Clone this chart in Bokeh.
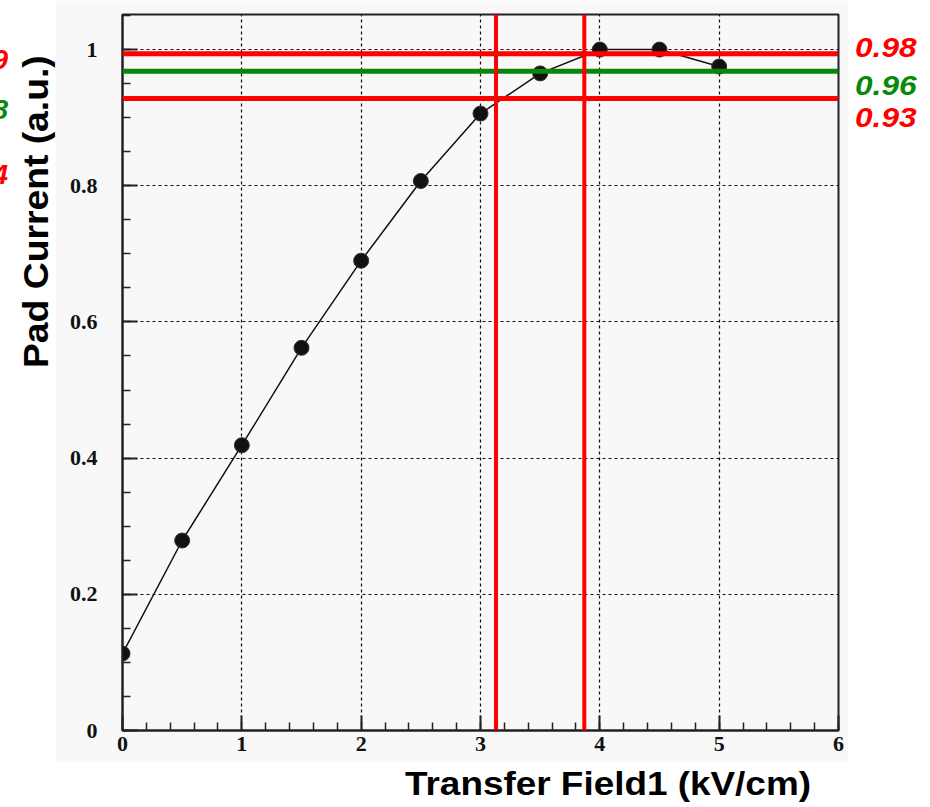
from bokeh.plotting import figure
from bokeh.models import Span, FixedTicker, Range1d, Div
from bokeh.layouts import row, column
from bokeh.embed import file_html
from bokeh.resources import INLINE

# ---- data ----
field_kv_cm = [0, 0.5, 1, 1.5, 2, 2.5, 3, 3.5, 4, 4.5, 5]
pad_current = [0.113, 0.279, 0.419, 0.562, 0.690, 0.807, 0.906, 0.965, 1.0, 1.0, 0.975]

x_ticks = [0, 1, 2, 3, 4, 5, 6]
x_tick_labels = ["0", "1", "2", "3", "4", "5", "6"]
y_ticks = [0, 0.2, 0.4, 0.6, 0.8, 1.0]
y_tick_labels = ["0", "0.2", "0.4", "0.6", "0.8", "1"]

hline_values = [0.994, 0.968, 0.928]
hline_colors = ["#ff0000", "#0a860a", "#ff0000"]
vline_values = [3.13, 3.87]

right_labels = ["0.98", "0.96", "0.93"]
right_label_colors = ["#ff0000", "#078a07", "#ff0000"]
left_cut_labels = ["9", "8", "4"]
left_cut_colors = ["#ff0000", "#078a07", "#ff0000"]

x_title = "Transfer Field1 (kV/cm)"
y_title = "Pad Current (a.u.)"

# ---- layout constants ----
LEFT_W, PLOT_W, RIGHT_W = 55, 793, 82
PLOT_H, BOTTOM_H = 762, 44
GREY = "#f8f8f8"

p = figure(width=PLOT_W, height=PLOT_H, x_range=Range1d(0, 6), y_range=Range1d(0, 1.0515),
           output_backend="svg", toolbar_location=None,
           min_border_left=67, min_border_right=10,
           min_border_top=14, min_border_bottom=32,
           background_fill_color=GREY, border_fill_color=GREY)

p.outline_line_color = "#222222"
p.outline_line_width = 2

x_minor = [i * 0.2 for i in range(31)]
y_minor = [i * 0.05 for i in range(22)]
p.xaxis.ticker = FixedTicker(ticks=x_ticks, minor_ticks=x_minor)
p.yaxis.ticker = FixedTicker(ticks=y_ticks, minor_ticks=y_minor)
p.xaxis.major_label_overrides = {t: l for t, l in zip(x_ticks, x_tick_labels)}
p.yaxis.major_label_overrides = {t: l for t, l in zip(y_ticks, y_tick_labels)}

for ax in (p.xaxis[0], p.yaxis[0]):
    ax.axis_line_width = 2
    ax.axis_line_color = "#222222"
    ax.major_tick_in = 15
    ax.major_tick_out = 0
    ax.minor_tick_in = 8
    ax.minor_tick_out = 0
    ax.major_tick_line_color = "#222222"
    ax.minor_tick_line_color = "#222222"
    ax.major_tick_line_width = 2
    ax.minor_tick_line_width = 1.5
    ax.major_label_text_font = "Liberation Serif"
    ax.major_label_text_font_style = "bold"
    ax.major_label_text_font_size = "22px"
    ax.major_label_text_color = "#111111"
p.xaxis.major_label_standoff = 6
p.yaxis.major_label_standoff = 25

p.xgrid.ticker = FixedTicker(ticks=x_ticks)
p.ygrid.ticker = FixedTicker(ticks=y_ticks)
for g in (p.xgrid[0], p.ygrid[0]):
    g.grid_line_color = "#111111"
    g.grid_line_dash = "3 3"
    g.grid_line_width = 1.2

# data
p.line(field_kv_cm, pad_current, line_color="#111111", line_width=1.5)
p.scatter(field_kv_cm, pad_current, size=15, fill_color="#111111", line_color="#333333")

# reference lines
for v, c in zip(hline_values, hline_colors):
    p.add_layout(Span(location=v, dimension="width", line_color=c, line_width=5))
for v in vline_values:
    p.add_layout(Span(location=v, dimension="height", line_color="#ff0000", line_width=4))

FONT = "'Liberation Sans', Arial, sans-serif"

# left strip: y title + cut-off labels
left_html = ['<div style="position:relative;width:%dpx;height:%dpx;overflow:visible;">' % (LEFT_W, PLOT_H)]
left_html.append(
    '<span style="position:absolute;left:18px;top:368px;transform-origin:0 0;'
    'transform:rotate(-90deg) scaleX(1.065);font:bold 35px/35px %s;white-space:nowrap;'
    'color:#000;">%s</span>' % (FONT, y_title))
for t, c, top in zip(left_cut_labels, left_cut_colors, [46, 96, 161]):
    left_html.append(
        '<span style="position:absolute;right:47px;top:%dpx;font:italic bold 28px/28px %s;'
        'color:%s;white-space:nowrap;">%s</span>' % (top, FONT, c, t))
left_html.append('</div>')
left_div = Div(text="".join(left_html), width=LEFT_W, height=PLOT_H,
               styles={"margin": "0", "padding": "0"})

# right strip: efficiency labels
right_html = ['<div style="position:relative;width:%dpx;height:%dpx;">' % (RIGHT_W, PLOT_H)]
for t, c, top in zip(right_labels, right_label_colors, [34, 72, 104]):
    right_html.append(
        '<span style="position:absolute;left:7px;top:%dpx;transform-origin:0 0;'
        'transform:scaleX(1.13);font:italic bold 28px/28px %s;color:%s;'
        'white-space:nowrap;">%s</span>' % (top, FONT, c, t))
right_html.append('</div>')
right_div = Div(text="".join(right_html), width=RIGHT_W, height=PLOT_H,
                styles={"margin": "0", "padding": "0"})

# bottom strip: x title
bottom_html = ('<div style="position:relative;width:930px;height:%dpx;">'
               '<span style="position:absolute;left:405px;top:5px;transform-origin:0 0;'
               'transform:scaleX(1.118);font:bold 33px/33px %s;color:#000;'
               'white-space:nowrap;">%s</span></div>' % (BOTTOM_H, FONT, x_title))
bottom_div = Div(text=bottom_html, width=930, height=BOTTOM_H,
                 styles={"margin": "0", "padding": "0"})

layout = column(row(left_div, p, right_div, spacing=0), bottom_div, spacing=0)

open("out.html", "w").write(file_html(layout, INLINE))
